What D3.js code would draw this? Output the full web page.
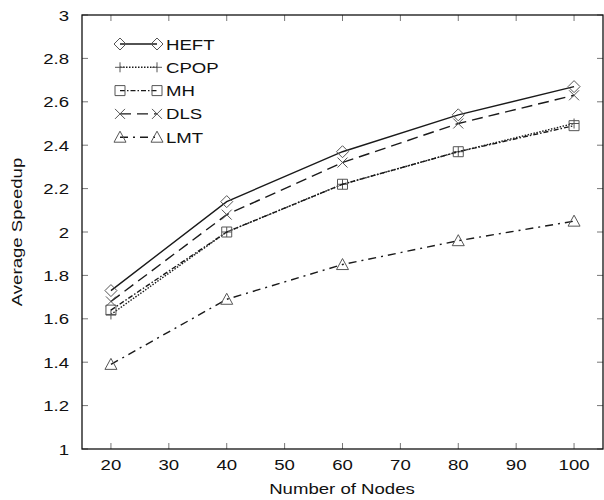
<!DOCTYPE html>
<html>
<head>
<meta charset="utf-8">
<script src="https://cdn.jsdelivr.net/npm/d3@7.9.0/dist/d3.min.js"></script>
<style>
  body { margin: 0; background: #fff; }
  svg text { font-family: "Liberation Sans", Arial, sans-serif; fill: #111; }
</style>
</head>
<body>
<svg id="chart" width="604" height="500"></svg>
<script>
const nodes = [20, 40, 60, 80, 100];
const heft = [1.73, 2.14, 2.37, 2.54, 2.67];
const cpop = [1.62, 2.00, 2.22, 2.37, 2.50];
const mh = [1.64, 2.00, 2.22, 2.37, 2.49];
const dls = [1.68, 2.08, 2.32, 2.50, 2.63];
const lmt = [1.39, 1.69, 1.85, 1.96, 2.05];
const xTicks = [20, 30, 40, 50, 60, 70, 80, 90, 100];
const yTicks = [1, 1.2, 1.4, 1.6, 1.8, 2, 2.2, 2.4, 2.6, 2.8, 3];

const series = [
  { name: 'HEFT', values: heft, dash: null, symbol: 'diamond' },
  { name: 'CPOP', values: cpop, dash: '1.5,1.5', symbol: 'plus' },
  { name: 'MH', values: mh, dash: '5,2,1.5,2', symbol: 'box' },
  { name: 'DLS', values: dls, dash: '11,6', symbol: 'cross' },
  { name: 'LMT', values: lmt, dash: '8,5,2,5', symbol: 'triangle' },
];

const pLeft = 82, pRight = 603, pTop = 15, pBottom = 449;
const fs = 15.5, stretch = 1.2; // the original lettering is a bit wide
const svg = d3.select('#chart');
const x = d3.scaleLinear().domain([15, 105]).range([pLeft, pRight]);
const y = d3.scaleLinear().domain([1, 3]).range([pBottom, pTop]);

function label(g, tx, ty, str, anchor, rot) {
  g.append('text')
    .attr('transform', `translate(${tx},${ty})${rot ? ' rotate(' + rot + ')' : ''} scale(${stretch},1)`)
    .attr('text-anchor', anchor).attr('font-size', fs)
    .text(str);
}

// ticks, gnuplot style (inward, mirrored)
const tickLen = 6;
const tg = svg.append('g').attr('stroke', '#777').attr('stroke-width', 1);
xTicks.forEach((t) => {
  tg.append('line').attr('x1', x(t)).attr('x2', x(t)).attr('y1', pBottom).attr('y2', pBottom - tickLen);
  tg.append('line').attr('x1', x(t)).attr('x2', x(t)).attr('y1', pTop).attr('y2', pTop + tickLen);
});
yTicks.forEach((t) => {
  tg.append('line').attr('x1', pLeft).attr('x2', pLeft + tickLen).attr('y1', y(t)).attr('y2', y(t));
  tg.append('line').attr('x1', pRight).attr('x2', pRight - tickLen).attr('y1', y(t)).attr('y2', y(t));
});

svg.append('rect')
  .attr('x', pLeft).attr('y', pTop)
  .attr('width', pRight - pLeft).attr('height', pBottom - pTop)
  .attr('fill', 'none').attr('stroke', '#111').attr('stroke-width', 1.3);

const labels = svg.append('g');
xTicks.forEach((t) => label(labels, x(t), pBottom + 21, t, 'middle'));
yTicks.forEach((t) => label(labels, 69, y(t) + 5.5, d3.format('~g')(t), 'end'));
label(labels, 342, 494, 'Number of Nodes', 'middle');
label(labels, 22, 232, 'Average Speedup', 'middle', -90);

function drawSymbol(g, kind, cx, cy) {
  const s = 5;
  let d;
  if (kind === 'diamond') {
    d = `M${cx},${cy - s - 1}L${cx + s + 1},${cy}L${cx},${cy + s + 1}L${cx - s - 1},${cy}Z`;
  } else if (kind === 'plus') {
    d = `M${cx - s},${cy}H${cx + s}M${cx},${cy - s}V${cy + s}`;
  } else if (kind === 'box') {
    d = `M${cx - s},${cy - s}h${2 * s}v${2 * s}h${-2 * s}Z`;
  } else if (kind === 'cross') {
    d = `M${cx - s},${cy - s}L${cx + s},${cy + s}M${cx - s},${cy + s}L${cx + s},${cy - s}`;
  } else {
    d = `M${cx},${cy - s - 1}L${cx + s + 1},${cy + s}L${cx - s - 1},${cy + s}Z`;
  }
  g.append('path').attr('d', d)
    .attr('fill', 'none').attr('stroke', '#555').attr('stroke-width', 1);
}

const line = d3.line().x((d) => x(d[0])).y((d) => y(d[1]));
const plot = svg.append('g');
series.forEach((s) => {
  const pts = nodes.map((n, i) => [n, s.values[i]]);
  plot.append('path')
    .attr('d', line(pts))
    .attr('fill', 'none').attr('stroke', '#1a1a1a').attr('stroke-width', 1.4)
    .attr('stroke-dasharray', s.dash);
  pts.forEach((p) => drawSymbol(plot, s.symbol, x(p[0]), y(p[1])));
});

// legend
const legend = svg.append('g');
series.forEach((s, i) => {
  const ly = 44 + i * 23.3;
  const x1 = 120, x2 = 157;
  legend.append('line')
    .attr('x1', x1).attr('x2', x2).attr('y1', ly).attr('y2', ly)
    .attr('stroke', '#1a1a1a').attr('stroke-width', 1.4)
    .attr('stroke-dasharray', s.dash);
  drawSymbol(legend, s.symbol, x1, ly);
  drawSymbol(legend, s.symbol, x2, ly);
  label(legend, 166, ly + 5.5, s.name, 'start');
});
</script>
</body>
</html>
